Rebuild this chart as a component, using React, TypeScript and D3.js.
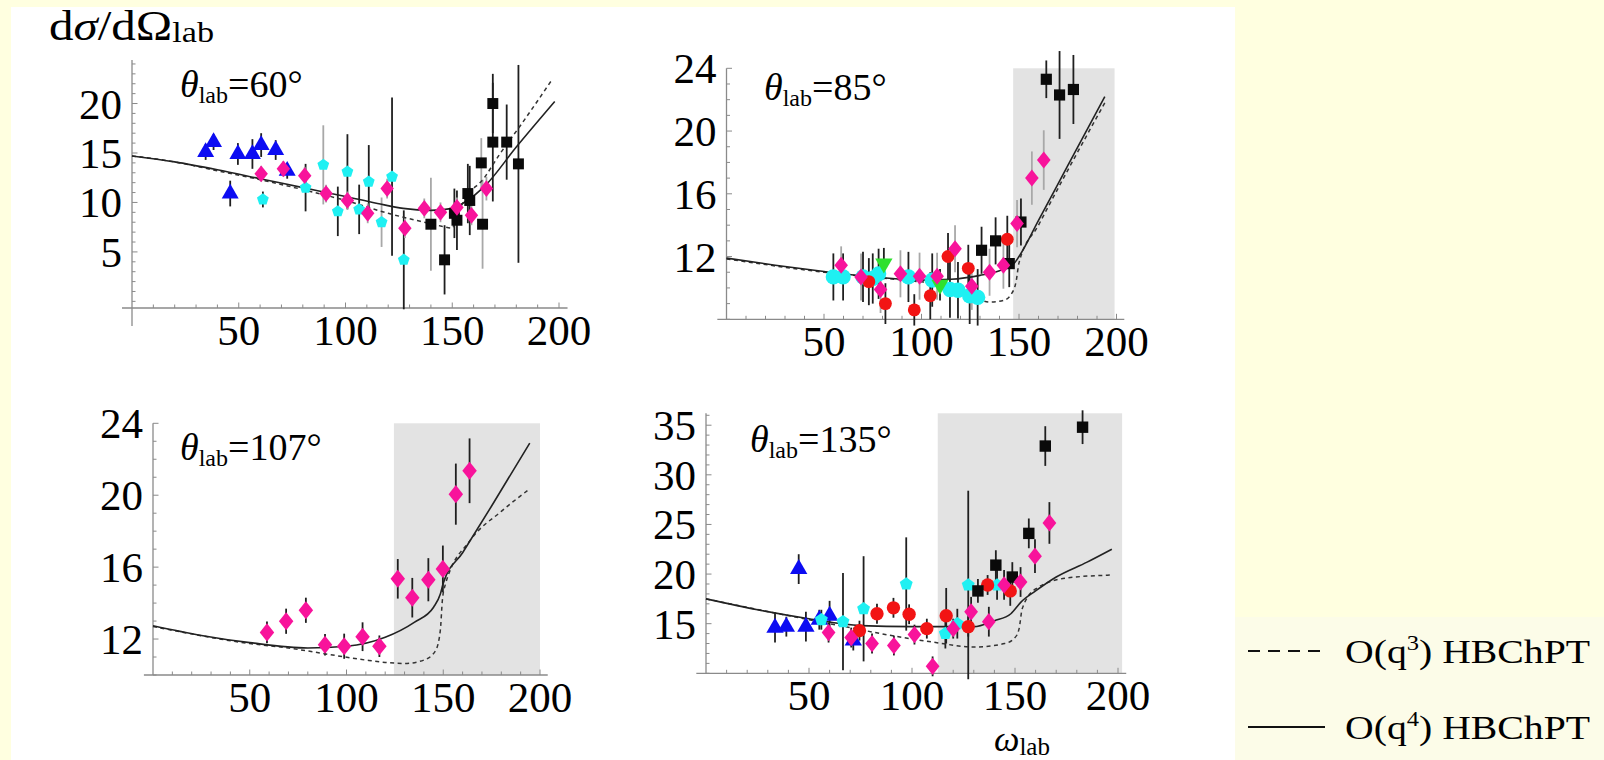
import React from "react";
import * as d3 from "d3";

/* ------------------------------------------------------------------ */
/*  Data: [omega_lab, dsigma/dOmega, error]                           */
/* ------------------------------------------------------------------ */

type Pt = [number, number, number];
type CurvePt = [number, number];

// theta_lab = 60
const p60Triangles: Pt[] = [
  [34.5, 15.1, 0.8], [38.2, 16.1, 0.8], [46, 10.9, 1.3], [49.6, 14.9, 1.1],
  [56.4, 14.9, 1.5], [60.5, 15.8, 1.2], [67.3, 15.3, 1.0], [72.7, 13.2, 0.8],
];
const p60Diamonds: Pt[] = [
  [60.5, 12.9, 0.8], [70.9, 13.4, 0.8], [80.9, 12.7, 0.9], [90.9, 10.9, 0.9],
  [100.9, 10.2, 0.9], [110.4, 8.9, 1.0], [119.5, 11.4, 1.0], [127.8, 7.4, 1.0],
  [136.9, 9.4, 1.0], [144.5, 9.0, 1.0], [152.2, 9.5, 1.0], [159, 8.7, 1.0],
  [166, 11.4, 1.2],
];
const p60Cyan: Pt[] = [
  [61.3, 10.3, 0.8], [81.3, 11.5, 2.4], [96.4, 9.1, 2.5], [100.9, 13.1, 3.8],
  [106.4, 9.3, 2.5], [110.9, 12.1, 3.7], [121.8, 12.6, 8], [127.3, 4.2, 5],
];
const p60CyanB: Pt[] = [[89.6, 13.8, 4], [116.9, 8.0, 2.5]];
const p60Squares: Pt[] = [
  [146.4, 4.2, 3.5], [151, 8.9, 2.5], [152.2, 8.2, 3], [157.3, 10.9, 3],
  [158.2, 10.2, 3.5], [169, 20.0, 3], [169, 16.1, 6], [175.5, 16.1, 3.8],
  [181, 13.9, 10],
];
const p60SquaresB: Pt[] = [[140, 7.8, 4.7], [163.6, 14.0, 2.5], [164.2, 7.8, 4.5]];
const p60Solid: CurvePt[] = [
  [0, 14.7], [20, 14.1], [40, 13.3], [60, 12.4], [80, 11.5], [100, 10.6],
  [115, 9.9], [127, 9.4], [140, 9.2], [150, 9.4], [157, 10.2], [165, 11.6],
  [180, 15.6], [198, 20.2],
];
const p60Dashed: CurvePt[] = [
  [0, 14.7], [20, 14.1], [40, 13.2], [60, 12.3], [80, 11.3], [100, 10.2],
  [120, 8.9], [135, 8.1], [145, 7.6], [150, 7.4], [152, 8.5], [155, 10],
  [165, 12.5], [172, 14.8], [183, 18.1], [197, 22.5],
];

// theta_lab = 85
const p85Cyan: Pt[] = [
  [54.8, 10.7, 1.5], [59.8, 10.7, 1.5], [70, 10.7, 1.6], [75, 10.6, 1.6],
  [78, 10.9, 1.6], [93.3, 10.7, 1.6], [105.5, 10.5, 1.7], [114.6, 9.9, 1.8],
  [118.7, 9.85, 1.8], [124.7, 9.5, 1.8], [128.8, 9.4, 1.8],
];
const p85Diamonds: Pt[] = [
  [58.8, 11.45, 1.2], [69, 10.7, 1.5], [79, 9.9, 1.5], [89.2, 10.9, 1.5],
  [99, 10.75, 1.5], [108, 10.75, 1.5], [117.2, 12.5, 1.5], [125.8, 10.1, 1.5],
  [134.9, 11.0, 1.5], [142, 11.45, 1.5], [149, 14.1, 1.5], [156.6, 17.0, 1.7],
  [162.7, 18.15, 1.9],
];
const p85Red: Pt[] = [
  [73, 10.4, 1.5], [81.5, 9.0, 1.3], [96.3, 8.6, 1.0], [104.5, 9.5, 1.5],
  [113.6, 12.0, 1.5], [124, 11.25, 1.5], [144, 13.1, 1.5],
];
const p85Squares: Pt[] = [
  [130.8, 12.4, 1.5], [138, 13.0, 1.5], [145, 11.55, 1.5], [151, 14.2, 1.5],
  [164, 23.3, 1.2], [170.8, 22.3, 2.8], [177.9, 22.65, 2.2],
];
const p85Green: Pt[] = [[80.7, 11.55, 1.0], [109.5, 10.2, 1.0]];
const p85Solid: CurvePt[] = [
  [0, 11.9], [25, 11.45], [50, 11.05], [75, 10.7], [100, 10.5], [115, 10.55],
  [130, 10.8], [140, 11.1], [147, 11.5], [150, 12.0], [160, 14.3], [175, 17.8],
  [194, 22.2],
];
const p85Dashed: CurvePt[] = [
  [0, 11.85], [50, 11.0], [90, 10.5], [110, 10.2], [125, 9.5], [135, 9.1],
  [142, 9.2], [146, 9.6], [148.5, 10.4], [150, 11.6], [160, 14.0], [175, 17.5],
  [194, 21.8],
];

// theta_lab = 107
const p107Diamonds: Pt[] = [
  [58.9, 12.37, 0.6], [68.8, 12.99, 0.7], [79, 13.6, 0.7], [88.9, 11.68, 0.6],
  [98.8, 11.6, 0.7], [108.3, 12.13, 0.8], [117, 11.6, 0.6], [126.5, 15.35, 1.1],
  [134, 14.3, 1.1], [142.3, 15.3, 1.2], [149.8, 15.9, 1.3], [156.5, 20.06, 1.7],
  [163.6, 21.36, 1.8],
];
const p107Solid: CurvePt[] = [
  [0, 12.74], [25, 12.2], [50, 11.8], [80, 11.5], [100, 11.6], [120, 12.1],
  [135, 12.93], [145, 13.77], [148.5, 14.5], [150, 15.1], [160, 16.8],
  [175, 19.4], [194.7, 22.9],
];
const p107Dashed: CurvePt[] = [
  [0, 12.7], [50, 11.75], [70, 11.5], [90, 11.16], [110, 10.83], [120, 10.7],
  [130, 10.64], [140, 10.83], [146, 11.35], [148.5, 12.5], [149.5, 14.1],
  [151, 15], [164, 17.5], [180, 19.1], [194, 20.3],
];

// theta_lab = 135
const p135Triangles: Pt[] = [
  [33.5, 14.6, 1.5], [39, 14.7, 1.0], [45, 20.5, 1.5], [48.5, 14.7, 1.5],
  [55, 15.4, 1.0], [60, 15.8, 1.5], [71.5, 13.3, 1.0],
];
const p135Cyan: Pt[] = [
  [56, 15.4, 1.0], [66.5, 15.2, 4.9], [76.5, 16.5, 5.3], [97.2, 19.0, 4.7],
  [116.2, 14.0, 1.5], [122, 15.0, 1.5], [127.3, 18.9, 9.5], [141.3, 18.9, 1.5],
];
const p135Red: Pt[] = [
  [74.5, 14.3, 1.0], [83, 16.0, 1.0], [91, 16.6, 1.0], [98.6, 15.95, 1.0],
  [107.2, 14.5, 1.0], [116.6, 15.8, 2.8], [127.3, 14.7, 1.0], [136.7, 18.9, 1.0],
  [147.7, 18.3, 1.5],
];
const p135Diamonds: Pt[] = [
  [59.5, 14.1, 1.0], [70.5, 13.6, 1.0], [80.6, 13.0, 1.0], [91.2, 12.8, 1.0],
  [101.2, 13.9, 1.0], [110, 10.7, 1.0], [120, 14.5, 1.0], [128.7, 16.2, 1.5],
  [137.3, 15.2, 1.5], [144.7, 18.9, 1.5], [152.7, 19.2, 1.5], [159.7, 21.8, 1.7],
  [166.7, 25.15, 2.1],
];
const p135Squares: Pt[] = [
  [132, 18.3, 1.2], [140.7, 20.9, 1.5], [148.7, 19.7, 1.5], [156.7, 24.1, 1.5],
  [164.7, 32.9, 2.0], [182.8, 34.8, 1.7],
];
const p135Solid: CurvePt[] = [
  [0, 17.5], [25, 16.4], [50, 15.5], [75, 14.8], [100, 14.7], [130, 14.7],
  [140, 15.3], [148, 16.0], [153, 17.2], [160, 18.3], [170, 19.7], [185, 21.2],
  [197, 22.5],
];
const p135Dashed: CurvePt[] = [
  [0, 17.5], [50, 15.4], [70, 14.6], [90, 13.8], [110, 13.15], [130, 12.65],
  [145, 13.0], [150, 13.6], [152, 14.5], [153.5, 16.5], [160, 18.5], [175, 19.6],
  [197, 19.9],
];

const xTickValues = [50, 100, 150, 200];

/* ------------------------------------------------------------------ */
/*  Styles                                                            */
/* ------------------------------------------------------------------ */

const FONT = "'Liberation Serif', 'Times New Roman', serif";
const TICK_FS = 43;
const BLUE = "#0c0cf2";
const CYAN = "#1ff0f2";
const MAGENTA = "#f8139b";
const RED = "#f21414";
const GREEN = "#2fe02f";
const BLACK = "#0a0a0a";
const BAR_DARK = "#1f1f1f";
const BAR_GRAY = "#a8a8a8";
const AXIS = "#8a8a8a";

const diamond: d3.SymbolType = {
  draw(ctx, size) {
    const w = Math.sqrt(size) / 2;
    const h = w * 1.25;
    ctx.moveTo(0, -h);
    ctx.lineTo(w, 0);
    ctx.lineTo(0, h);
    ctx.lineTo(-w, 0);
    ctx.closePath();
  },
};
const pentagon: d3.SymbolType = {
  draw(ctx, size) {
    const r = Math.sqrt(size) * 0.62;
    for (let k = 0; k < 5; k++) {
      const a = -Math.PI / 2 + (k * 2 * Math.PI) / 5;
      if (k === 0) ctx.moveTo(r * Math.cos(a), r * Math.sin(a));
      else ctx.lineTo(r * Math.cos(a), r * Math.sin(a));
    }
    ctx.closePath();
  },
};
const triangleDown: d3.SymbolType = {
  draw(ctx, size) {
    const s = Math.sqrt((size * 4) / Math.sqrt(3));
    const h = (s * Math.sqrt(3)) / 2;
    ctx.moveTo(0, (2 * h) / 3);
    ctx.lineTo(s / 2, -h / 3);
    ctx.lineTo(-s / 2, -h / 3);
    ctx.closePath();
  },
};

interface Series {
  data: Pt[];
  type: d3.SymbolType;
  fill: string;
  bar: string;
  size: number;
}

interface PanelSpec {
  x0: number;
  x1: number;
  yDomain: [number, number];
  yRange: [number, number];
  yTicks: number[];
  yAxisDrop?: number;
  shade?: [number, number];
  title: string;
  titleX: number;
  titleY: number;
  series: Series[];
  solid: CurvePt[];
  dashed: CurvePt[];
}

const panels: PanelSpec[] = [
  {
    x0: 132, x1: 559, yDomain: [-0.67, 24.4], yRange: [308, 60],
    yTicks: [5, 10, 15, 20], yAxisDrop: 18, title: "=60°", titleX: 180, titleY: 97,
    series: [
      { data: p60CyanB, type: pentagon, fill: CYAN, bar: BAR_GRAY, size: 100 },
      { data: p60SquaresB, type: d3.symbolSquare, fill: BLACK, bar: BAR_GRAY, size: 120 },
      { data: p60Cyan, type: pentagon, fill: CYAN, bar: BAR_DARK, size: 100 },
      { data: p60Squares, type: d3.symbolSquare, fill: BLACK, bar: BAR_DARK, size: 120 },
      { data: p60Triangles, type: d3.symbolTriangle, fill: BLUE, bar: BAR_DARK, size: 125 },
      { data: p60Diamonds, type: diamond, fill: MAGENTA, bar: BAR_GRAY, size: 180 },
    ],
    solid: p60Solid, dashed: p60Dashed,
  },
  {
    x0: 726.5, x1: 1116.5, yDomain: [8, 24], yRange: [319.3, 68.3],
    yTicks: [12, 16, 20, 24], shade: [147, 199], title: "=85°", titleX: 764, titleY: 100,
    series: [
      { data: p85Cyan, type: d3.symbolCircle, fill: CYAN, bar: BAR_DARK, size: 185 },
      { data: p85Red, type: d3.symbolCircle, fill: RED, bar: BAR_DARK, size: 130 },
      { data: p85Green, type: triangleDown, fill: GREEN, bar: BAR_DARK, size: 130 },
      { data: p85Squares, type: d3.symbolSquare, fill: BLACK, bar: BAR_DARK, size: 125 },
      { data: p85Diamonds, type: diamond, fill: MAGENTA, bar: BAR_GRAY, size: 185 },
    ],
    solid: p85Solid, dashed: p85Dashed,
  },
  {
    x0: 153, x1: 540, yDomain: [10, 24], yRange: [675, 423.3],
    yTicks: [12, 16, 20, 24], shade: [124.5, 200], title: "=107°", titleX: 180, titleY: 460,
    series: [
      { data: p107Diamonds, type: diamond, fill: MAGENTA, bar: BAR_DARK, size: 210 },
    ],
    solid: p107Solid, dashed: p107Dashed,
  },
  {
    x0: 706, x1: 1118, yDomain: [10, 36.2], yRange: [673.3, 413.3],
    yTicks: [15, 20, 25, 30, 35], shade: [112.5, 202], title: "=135°", titleX: 750, titleY: 452,
    series: [
      { data: p135Triangles, type: d3.symbolTriangle, fill: BLUE, bar: BAR_DARK, size: 130 },
      { data: p135Cyan, type: pentagon, fill: CYAN, bar: BAR_DARK, size: 120 },
      { data: p135Red, type: d3.symbolCircle, fill: RED, bar: BAR_DARK, size: 140 },
      { data: p135Squares, type: d3.symbolSquare, fill: BLACK, bar: BAR_DARK, size: 130 },
      { data: p135Diamonds, type: diamond, fill: MAGENTA, bar: BAR_DARK, size: 190 },
    ],
    solid: p135Solid, dashed: p135Dashed,
  },
];

/* ------------------------------------------------------------------ */
/*  Components                                                        */
/* ------------------------------------------------------------------ */

function Panel({ p }: { p: PanelSpec }) {
  const x = d3.scaleLinear().domain([0, 200]).range([p.x0, p.x1]);
  const y = d3.scaleLinear().domain(p.yDomain).range(p.yRange);
  const axisY = p.yRange[0];
  const top = p.yRange[1];
  const line = d3
    .line<CurvePt>()
    .x((d) => x(d[0]))
    .y((d) => y(d[1]))
    .curve(d3.curveMonotoneX);
  const minorX = d3.range(10, 201, 10);
  const minorY = d3.range(Math.ceil(p.yDomain[0]), Math.floor(p.yDomain[1]) + 1, 1);

  return (
    <g>
      {p.shade && (
        <rect
          x={x(p.shade[0])}
          y={top}
          width={x(p.shade[1]) - x(p.shade[0])}
          height={axisY - top}
          fill="#e3e3e3"
        />
      )}

      {/* axes */}
      <line x1={x(-4.7)} x2={x(204)} y1={axisY} y2={axisY} stroke={AXIS} strokeWidth={1.3} />
      <line
        x1={p.x0}
        x2={p.x0}
        y1={top}
        y2={axisY + (p.yAxisDrop ?? 0)}
        stroke={AXIS}
        strokeWidth={1.3}
      />
      {minorX.map((t) => (
        <line
          key={`mx${t}`}
          x1={x(t)}
          x2={x(t)}
          y1={axisY}
          y2={axisY - (t % 50 === 0 ? 5.5 : 3.5)}
          stroke={AXIS}
          strokeWidth={1}
        />
      ))}
      {minorY.map((t) => (
        <line
          key={`my${t}`}
          x1={p.x0}
          x2={p.x0 + (p.yTicks.includes(t) ? 5.5 : 3.5)}
          y1={y(t)}
          y2={y(t)}
          stroke={AXIS}
          strokeWidth={1}
        />
      ))}
      {xTickValues.map((t) => (
        <text
          key={`xl${t}`}
          x={x(t)}
          y={axisY + 37}
          textAnchor="middle"
          fontFamily={FONT}
          fontSize={TICK_FS}
        >
          {t}
        </text>
      ))}
      {p.yTicks.map((t) => (
        <text
          key={`yl${t}`}
          x={p.x0 - 10}
          y={y(t) + 15}
          textAnchor="end"
          fontFamily={FONT}
          fontSize={TICK_FS}
        >
          {t}
        </text>
      ))}

      {/* error bars */}
      {p.series.map((s, si) =>
        s.data.map((d, i) => (
          <line
            key={`e${si}-${i}`}
            x1={x(d[0])}
            x2={x(d[0])}
            y1={y(d[1] - d[2])}
            y2={y(d[1] + d[2])}
            stroke={s.bar}
            strokeWidth={1.8}
          />
        )),
      )}

      {/* theory curves */}
      <path d={line(p.dashed) ?? ""} fill="none" stroke="#333" strokeWidth={1.5} strokeDasharray="4 3.5" />
      <path d={line(p.solid) ?? ""} fill="none" stroke="#222" strokeWidth={1.6} />

      {/* markers */}
      {p.series.map((s, si) => {
        const sym = d3.symbol().type(s.type).size(s.size)() ?? "";
        return s.data.map((d, i) => (
          <path
            key={`m${si}-${i}`}
            d={sym}
            transform={`translate(${x(d[0])},${y(d[1])})`}
            fill={s.fill}
          />
        ));
      })}

      {/* panel label */}
      <text x={p.titleX} y={p.titleY} fontFamily={FONT} fontSize={38}>
        <tspan fontStyle="italic">θ</tspan>
        <tspan fontSize={24} dy={6}>lab</tspan>
        <tspan dy={-6}>{p.title}</tspan>
      </text>
    </g>
  );
}

export default function App() {
  return (
    <>
      <style>{"body{margin:0;overflow:hidden}"}</style>
      <svg width={1604} height={760} style={{ display: "block" }}>
        <rect width={1604} height={760} fill="#ffffe0" />
        <rect x={11} y={7} width={1224} height={753} fill="#ffffff" />
        <rect x={1235} y={617} width={369} height={143} fill="#fcfce8" />

        {panels.map((p, i) => (
          <Panel key={i} p={p} />
        ))}

        {/* y-axis title */}
        <text x={49} y={40} fontFamily={FONT} fontSize={43} textLength={165} lengthAdjust="spacingAndGlyphs">
          d<tspan fontStyle="italic">σ</tspan>/dΩ
          <tspan fontSize={30} dy={2}>lab</tspan>
        </text>

        {/* x-axis title */}
        <text x={994} y={751} fontFamily={FONT} fontSize={36}>
          <tspan fontStyle="italic">ω</tspan>
          <tspan fontSize={25} dy={4}>lab</tspan>
        </text>

        {/* legend */}
        <line x1={1248} x2={1320} y1={651} y2={651} stroke="#111" strokeWidth={2.2} strokeDasharray="12 8" />
        <text x={1345} y={663} fontFamily={FONT} fontSize={34} textLength={245} lengthAdjust="spacingAndGlyphs">
          O(q<tspan fontSize={21} dy={-13}>3</tspan>
          <tspan dy={13}>) HBChPT</tspan>
        </text>
        <line x1={1248} x2={1325} y1={727} y2={727} stroke="#111" strokeWidth={2.2} />
        <text x={1345} y={739} fontFamily={FONT} fontSize={34} textLength={245} lengthAdjust="spacingAndGlyphs">
          O(q<tspan fontSize={21} dy={-13}>4</tspan>
          <tspan dy={13}>) HBChPT</tspan>
        </text>
      </svg>
    </>
  );
}
